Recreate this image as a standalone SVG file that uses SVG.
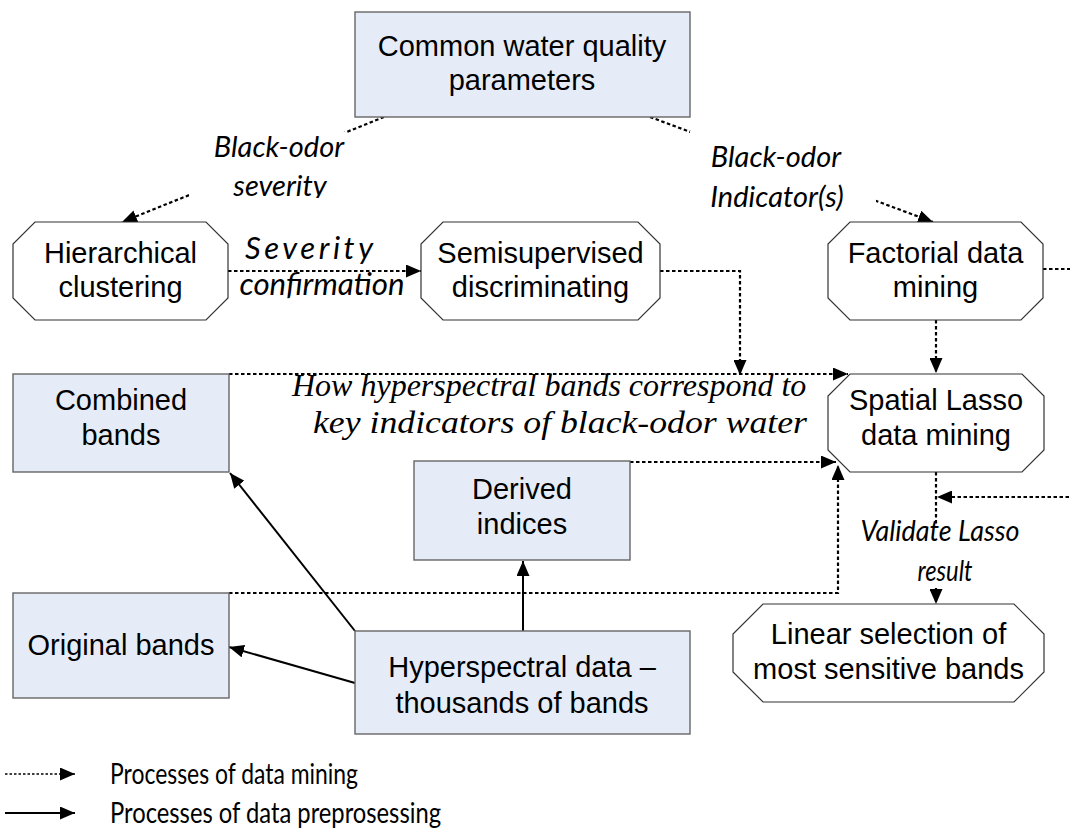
<svg xmlns="http://www.w3.org/2000/svg" width="1070" height="830" viewBox="0 0 1070 830">
<style>
.box{fill:#E6ECF7;stroke:#666;stroke-width:1.4}
.oct{fill:#fff;stroke:#333;stroke-width:1.2}
.t{font-family:"Liberation Sans",Arial,sans-serif;font-size:29px;fill:#000;text-anchor:middle}
.lab{font-family:Lato,"Open Sans",sans-serif;font-style:italic;fill:#000;text-anchor:middle}
.tim{font-family:"Liberation Serif","Times New Roman",serif;font-style:italic;font-size:32px;fill:#000}
.leg{font-family:Lato,"Open Sans",sans-serif;font-size:29px;fill:#000}
.dot{fill:none;stroke:#000;stroke-width:2.2;stroke-dasharray:3.5 2.5}
.dotf{fill:none;stroke:#000;stroke-width:1.6;stroke-dasharray:2.5 2}
.sol{fill:none;stroke:#000;stroke-width:2}
</style>
<defs>
<marker id="ah" markerUnits="userSpaceOnUse" markerWidth="15" markerHeight="13" viewBox="0 0 15 13" refX="15" refY="6.5" orient="auto">
<path d="M0,0 L15,6.5 L0,13 Z" fill="#000"/>
</marker>
<clipPath id="clipSev"><rect x="150" y="120" width="220" height="78"/></clipPath>
</defs>

<g id="connectors">
<line class="dot" x1="384" y1="117" x2="122" y2="222" marker-end="url(#ah)"/>
<line class="dot" x1="650" y1="117" x2="933" y2="222" marker-end="url(#ah)"/>
<line class="dot" x1="228" y1="271" x2="421" y2="271" marker-end="url(#ah)"/>
<polyline class="dot" points="660,271 740,271 740,375" marker-end="url(#ah)"/>
<line class="dot" x1="936" y1="320" x2="936" y2="373" marker-end="url(#ah)"/>
<line class="dot" x1="1043" y1="269" x2="1075" y2="269"/>
<line class="dot" x1="229" y1="374" x2="848" y2="374" marker-end="url(#ah)"/>
<line class="dot" x1="630" y1="462" x2="836" y2="462" marker-end="url(#ah)"/>
<polyline class="dot" points="229,593 838,593 838,465" marker-end="url(#ah)"/>
<line class="dot" x1="936" y1="472" x2="936" y2="604" marker-end="url(#ah)"/>
<line class="dot" x1="1075" y1="497" x2="937" y2="497" marker-end="url(#ah)"/>
<line class="sol" x1="355" y1="631" x2="230" y2="473" marker-end="url(#ah)"/>
<line class="sol" x1="355" y1="683" x2="229" y2="647" marker-end="url(#ah)"/>
<line class="sol" x1="523" y1="631" x2="523" y2="561" marker-end="url(#ah)"/>
</g>

<g id="label-severity">
<rect x="189" y="132" width="157" height="68" fill="#fff"/>
<g clip-path="url(#clipSev)">
<text class="lab" x="279" y="157" font-size="29">Black-odor</text>
<text class="lab" x="280" y="196" font-size="29">severity</text>
</g>
</g>
<g id="label-indicator">
<rect x="690" y="131" width="186" height="72" fill="#fff"/>
<text class="lab" x="776" y="167" font-size="29">Black-odor</text>
<text class="lab" x="777" y="207" font-size="29">Indicator(s)</text>
</g>
<g id="label-confirm">
<text class="lab" x="309" y="259" font-size="31" textLength="128">Severity</text>
<text class="lab" x="322" y="295" font-size="31" textLength="165" lengthAdjust="spacingAndGlyphs">confirmation</text>
</g>
<g id="label-validate">
<rect x="860" y="526" width="162" height="62" fill="#fff"/>
<text class="lab" x="940" y="541" font-size="28" textLength="159" lengthAdjust="spacingAndGlyphs">Validate Lasso</text>
<text class="lab" x="945" y="581" font-size="28" textLength="55" lengthAdjust="spacingAndGlyphs">result</text>
</g>
<g id="label-how">
<text class="tim" x="292" y="396">How hyperspectral bands correspond to</text>
<text class="tim" x="313" y="433" font-size="34" textLength="494" lengthAdjust="spacingAndGlyphs">key indicators of black-odor water</text>
</g>

<g id="common">
<rect class="box" x="355" y="12" width="335" height="105"/>
<text class="t" x="522" y="56">Common water quality</text>
<text class="t" x="522" y="90">parameters</text>
</g>
<g id="hierarchical">
<path class="oct" d="M35,222 L206,222 L228,244 L228,298 L206,320 L35,320 L13,298 L13,244 Z"/>
<text class="t" x="120.5" y="263">Hierarchical</text>
<text class="t" x="120.5" y="297">clustering</text>
</g>
<g id="semisupervised">
<path class="oct" d="M443,222 L638,222 L660,244 L660,298 L638,320 L443,320 L421,298 L421,244 Z"/>
<text class="t" x="540.5" y="263">Semisupervised</text>
<text class="t" x="540.5" y="297">discriminating</text>
</g>
<g id="factorial">
<path class="oct" d="M850,222 L1021,222 L1043,244 L1043,298 L1021,320 L850,320 L828,298 L828,244 Z"/>
<text class="t" x="935.5" y="263">Factorial data</text>
<text class="t" x="935.5" y="297">mining</text>
</g>
<g id="spatial-lasso">
<path class="oct" d="M850,374 L1022,374 L1044,396 L1044,450 L1022,472 L850,472 L828,450 L828,396 Z"/>
<text class="t" x="936" y="410">Spatial Lasso</text>
<text class="t" x="936" y="445">data mining</text>
</g>
<g id="combined">
<rect class="box" x="13" y="374" width="216" height="98"/>
<text class="t" x="121" y="410">Combined</text>
<text class="t" x="121" y="445">bands</text>
</g>
<g id="derived">
<rect class="box" x="414" y="461" width="216" height="99"/>
<text class="t" x="522" y="499">Derived</text>
<text class="t" x="522" y="534">indices</text>
</g>
<g id="original">
<rect class="box" x="13" y="593" width="216" height="105"/>
<text class="t" x="121" y="655">Original bands</text>
</g>
<g id="hyperspectral">
<rect class="box" x="355" y="631" width="335" height="103"/>
<text class="t" x="522" y="677">Hyperspectral data –</text>
<text class="t" x="522" y="713">thousands of bands</text>
</g>
<g id="linear">
<path class="oct" d="M763,604 L1014,604 L1044,634 L1044,672 L1014,702 L763,702 L733,672 L733,634 Z"/>
<text class="t" x="888.5" y="644">Linear selection of</text>
<text class="t" x="888.5" y="679">most sensitive bands</text>
</g>

<g id="legend">
<line class="dotf" x1="5" y1="774" x2="75" y2="774" marker-end="url(#ah)"/>
<line class="sol" x1="5" y1="813" x2="75" y2="813" stroke-width="2.5" marker-end="url(#ah)"/>
<text class="leg" x="110" y="784" textLength="248" lengthAdjust="spacingAndGlyphs">Processes of data mining</text>
<text class="leg" x="110" y="823" textLength="331" lengthAdjust="spacingAndGlyphs">Processes of data preprosessing</text>
</g>
</svg>
